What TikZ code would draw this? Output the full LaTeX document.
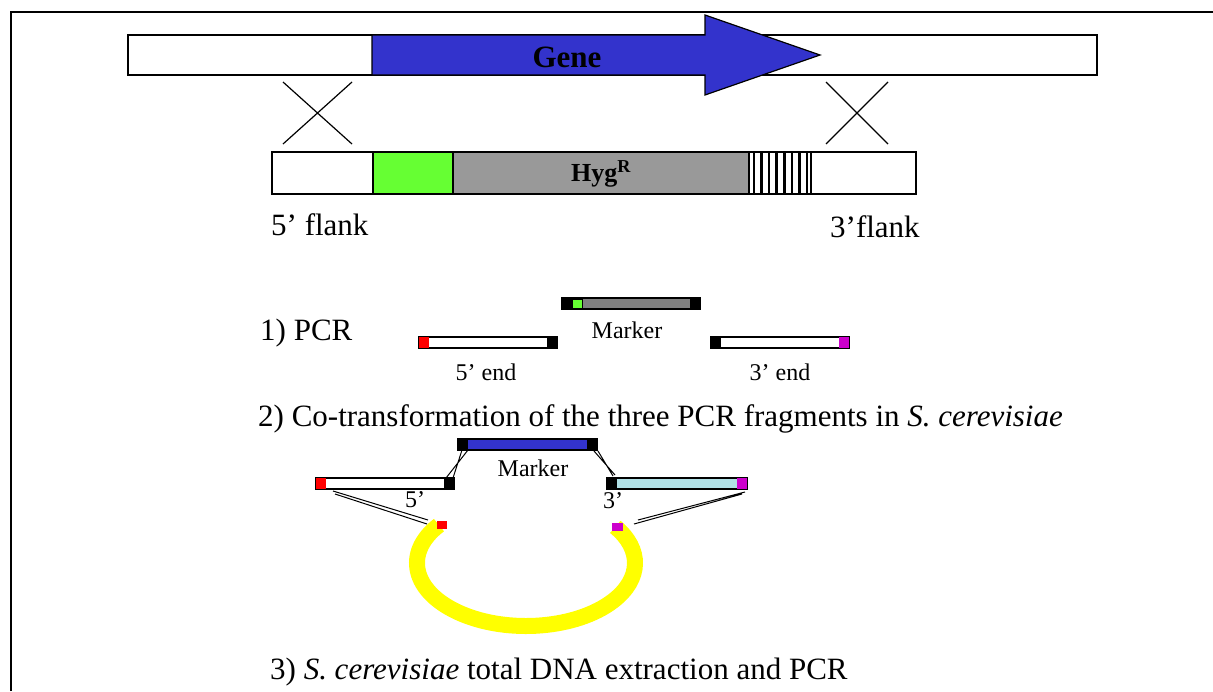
\documentclass[tikz,border=0pt]{standalone}
\usepackage{fontspec}
\setmainfont{Liberation Serif}
\definecolor{geneblue}{RGB}{51,51,204}
\definecolor{markgreen}{RGB}{102,255,51}
\definecolor{hyggray}{RGB}{153,153,153}
\definecolor{fraggray}{RGB}{128,128,128}
\definecolor{endmag}{RGB}{204,0,204}
\definecolor{fragcyan}{RGB}{176,224,230}
\definecolor{ringyellow}{RGB}{255,255,0}
\tikzset{
  bigtext/.style={font=\fontsize{31}{37}\selectfont,inner sep=0pt},
  smalltext/.style={font=\fontsize{24}{29}\selectfont,inner sep=0pt},
  boxline/.style={line width=1.5pt},
  fragline/.style={line width=2pt},
  linkline/.style={line width=1pt},
}

\begin{document}
\begin{tikzpicture}[x=1pt,y=-1pt]
  \useasboundingbox (0,0) rectangle (1213,691);
  \draw[line width=2pt] (11,691) -- (11,12) -- (1213,12);
  % chromosome with gene
  \draw[boxline,fill=white] (128,35) rectangle (1097,75);
  \draw[line width=1.2pt,fill=geneblue] (372,35) -- (705,35) -- (705,15) -- (820,55) -- (705,95) -- (705,75) -- (372,75) -- cycle;
  \node[font=\bfseries\fontsize{31}{37}\selectfont] (gene) at (567,57) {Gene};
  % crossovers
  \draw[line width=1.2pt] (283,82) -- (352,144) (352,82) -- (283,144);
  \draw[line width=1.2pt] (826,82) -- (888,144) (888,82) -- (826,144);
  % deletion cassette
  \draw[boxline,fill=white] (272,152) rectangle (916,194);
  \draw[boxline,fill=markgreen] (373,152) rectangle (453,194);
  \draw[boxline,fill=hyggray] (453,152) rectangle (749,194);
  \foreach \i in {0,...,7}
    \fill (752.5+\i*7.6,152) rectangle ++(2.6,42);
  \draw[boxline] (749,152) rectangle (811,194);
  \node[font=\bfseries\fontsize{26}{31}\selectfont] (hyg) at (601,174) {Hyg\textsuperscript{R}};
  \node[bigtext,anchor=base west] (flank5) at (271,235) {5’ flank};
  \node[bigtext,anchor=base west] (flank3) at (830,237) {3’flank};
  % 1) PCR fragments
  \node[bigtext,anchor=base west] (pcr) at (260,340) {1) PCR};
  \draw[fragline,fill=fraggray] (562,298) rectangle (700,309);
  \fill (562,298) rectangle (572,309);
  \fill (690,298) rectangle (700,309);
  \draw[line width=1pt,fill=markgreen] (572,299) rectangle (582,308);
  \node[smalltext,anchor=base] (marker1) at (627,338) {Marker};
  \draw[fragline,fill=white] (419,337) rectangle (557,348);
  \fill[red] (419,337) rectangle (429,348);
  \fill (547,337) rectangle (557,348);
  \node[smalltext,anchor=base] (end5) at (486,380) {5’ end};
  \draw[fragline,fill=white] (711,337) rectangle (849,348);
  \fill (711,337) rectangle (721,348);
  \fill[endmag] (839,337) rectangle (849,348);
  \node[smalltext,anchor=base] (end3) at (780,380) {3’ end};
  % 2) co-transformation
  \node[bigtext,anchor=base west] (cotrans) at (258,426) {2) Co-transformation of the three PCR fragments in \textit{S. cerevisiae}};
  \draw[fragline,fill=geneblue] (458,439) rectangle (597,450);
  \fill (458,439) rectangle (468,450);
  \fill (587,439) rectangle (597,450);
  \node[smalltext,anchor=base] (marker2) at (533,476) {Marker};
  \draw[fragline,fill=white] (316,478) rectangle (454,489);
  \fill[red] (316,478) rectangle (326,489);
  \fill (444,478) rectangle (454,489);
  \node[smalltext,anchor=base] (five) at (415,507) {5’};
  \draw[fragline,fill=fragcyan] (607,478) rectangle (747,489);
  \fill (607,478) rectangle (617,489);
  \fill[endmag] (737,478) rectangle (747,489);
  \node[smalltext,anchor=base] (three) at (613,508) {3’};
  % vector ring
  \draw[line width=16pt,ringyellow] (526,563) ++(217:109 and 63) arc[start angle=217,end angle=-35,x radius=109,y radius=63];
  \fill[red] (437,521) rectangle (447,529);
  \fill[endmag] (612,523) rectangle (623,531);
  % overlaps
  \coordinate (a1) at (446,478); \coordinate (a2) at (468,450);
  \coordinate (b1) at (453,478); \coordinate (b2) at (462,450);
  \draw[linkline] (a1) -- (a2) (b1) -- (b2);
  \coordinate (c1) at (594,451); \coordinate (c2) at (615,475);
  \coordinate (d1) at (598,451); \coordinate (d2) at (613,476);
  \draw[linkline] (c1) -- (c2) (d1) -- (d2);
  \coordinate (e1) at (333,491); \coordinate (e2) at (428,520);
  \coordinate (f1) at (335,494); \coordinate (f2) at (427,524);
  \draw[linkline] (e1) -- (e2) (f1) -- (f2);
  \coordinate (g1) at (745,492); \coordinate (g2) at (638,520);
  \coordinate (h1) at (742,494); \coordinate (h2) at (634,524);
  \draw[linkline] (g1) -- (g2) (h1) -- (h2);
  % 3) extraction
  \node[bigtext,anchor=base west] (extract) at (270,679) {3) \textit{S. cerevisiae} total DNA extraction and PCR};
\end{tikzpicture}
\end{document}
